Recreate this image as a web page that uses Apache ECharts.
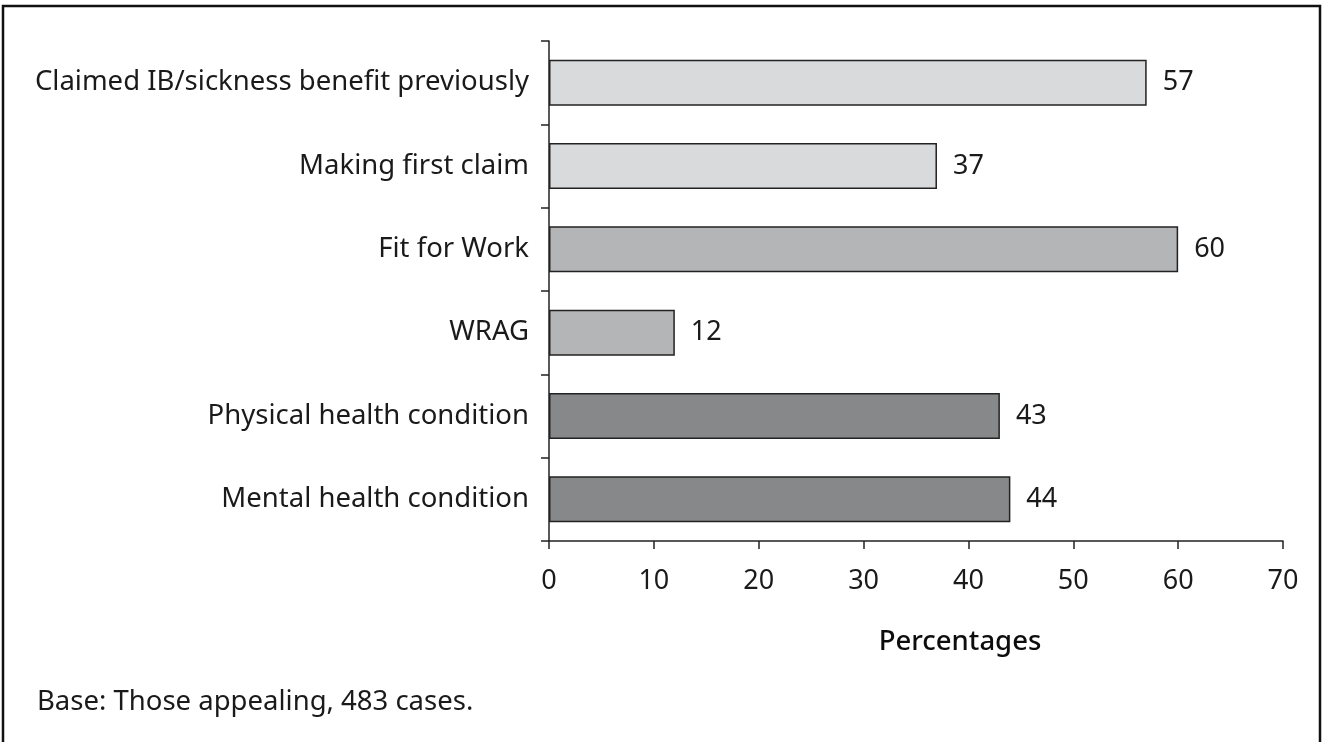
<!DOCTYPE html>
<html>
<head>
<meta charset="utf-8">
<script src="https://cdn.jsdelivr.net/npm/echarts@6/dist/echarts.min.js"></script>
<style>
  html, body { margin: 0; padding: 0; background: #fff; }
  #chart { width: 1323px; height: 742px; }
</style>
</head>
<body>
<div id="chart"></div>
<script>
// Categories, top to bottom
const categories = [
  'Claimed IB/sickness benefit previously',
  'Making first claim',
  'Fit for Work',
  'WRAG',
  'Physical health condition',
  'Mental health condition'
];
// Percentage of appeals in each group
const values = [57, 37, 60, 12, 43, 44];
// Shade per group (claim history, assessment outcome, condition type)
const barColors = ['#d9dadc', '#d9dadc', '#b4b5b7', '#b4b5b7', '#87888a', '#87888a'];
const xTicks = [0, 10, 20, 30, 40, 50, 60, 70];
const axisTitle = 'Percentages';
const baseNote = 'Base: Those appealing, 483 cases.';

const FONT = "'Noto Sans', 'Open Sans', sans-serif";
const chart = echarts.init(document.getElementById('chart'), null, { renderer: 'canvas' });

chart.setOption({
  animation: false,
  backgroundColor: '#ffffff',
  textStyle: { fontFamily: FONT },
  grid: { left: 549, right: 40, top: 41, bottom: 201, containLabel: false },
  xAxis: {
    type: 'value',
    min: xTicks[0],
    max: xTicks[xTicks.length - 1],
    interval: 10,
    splitLine: { show: false },
    axisLine: { show: true, lineStyle: { color: '#222', width: 1.5 } },
    axisTick: { show: true, length: 8, lineStyle: { color: '#222', width: 1.5 } },
    axisLabel: { color: '#1a1a1a', fontSize: 27, margin: 27, fontFamily: FONT }
  },
  yAxis: {
    type: 'category',
    inverse: true,
    data: categories,
    axisLine: { show: true, lineStyle: { color: '#222', width: 1.5 } },
    axisTick: { show: true, length: 8, lineStyle: { color: '#222', width: 1.5 } },
    axisLabel: { color: '#1a1a1a', fontSize: 27.5, margin: 20, fontFamily: FONT }
  },
  series: [{
    type: 'bar',
    barWidth: 46,
    data: values.map((v, i) => ({
      value: v,
      itemStyle: { color: barColors[i], borderColor: '#222', borderWidth: 1.5 }
    })),
    label: {
      show: true,
      position: 'right',
      distance: 16,
      color: '#1a1a1a',
      fontSize: 27,
      fontFamily: FONT
    }
  }],
  graphic: [
    {
      type: 'rect',
      shape: { x: 3, y: 6, width: 1317, height: 760 },
      style: { fill: 'none', stroke: '#111', lineWidth: 2.5 },
      silent: true
    },
    {
      type: 'text',
      x: 960,
      y: 642,
      style: {
        text: axisTitle, fill: '#0d0d0d',
        font: `500 27.5px ${FONT}`,
        align: 'center', verticalAlign: 'middle',
        textAlign: 'center', textVerticalAlign: 'middle'
      }
    },
    {
      type: 'text',
      x: 37,
      y: 702,
      style: {
        text: baseNote, fill: '#1a1a1a',
        font: `27.5px ${FONT}`,
        align: 'left', verticalAlign: 'middle',
        textAlign: 'left', textVerticalAlign: 'middle'
      }
    }
  ]
});
</script>
</body>
</html>
